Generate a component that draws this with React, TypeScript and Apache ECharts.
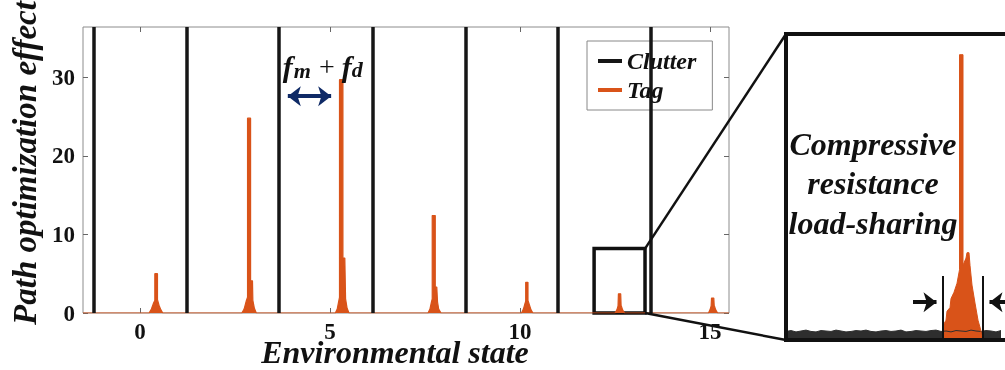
import React, { useEffect, useRef } from "react";
import * as echarts from "echarts";

// ---- main panel data ----
const xTicks = [0, 5, 10, 15];
const yTicks = [0, 10, 20, 30];
const clutterX = [-1.21, 1.24, 3.66, 6.12, 8.56, 11.0, 13.45];

const tagPeak1 = [[0.24, 0], [0.3, 0.5], [0.36, 1.3], [0.39, 1.6], [0.39, 5.0], [0.46, 5.0], [0.46, 1.7], [0.5, 1.0], [0.55, 0.4], [0.6, 0]];
const tagPeak2 = [[2.68, 0], [2.74, 0.5], [2.8, 1.6], [2.83, 2.0], [2.83, 24.8], [2.91, 24.8], [2.91, 4.1], [2.96, 4.1], [2.97, 1.6], [3.01, 0.6], [3.06, 0]];
const tagPeak3 = [[5.14, 0], [5.19, 0.5], [5.23, 1.5], [5.25, 2.0], [5.25, 29.7], [5.34, 29.7], [5.34, 7.0], [5.39, 7.0], [5.41, 1.8], [5.45, 0.6], [5.5, 0]];
const tagPeak4 = [[7.58, 0], [7.63, 0.5], [7.67, 1.4], [7.69, 1.8], [7.69, 12.4], [7.77, 12.4], [7.77, 3.3], [7.81, 3.3], [7.83, 1.4], [7.86, 0.5], [7.92, 0]];
const tagPeak5 = [[10.04, 0], [10.09, 0.5], [10.13, 1.2], [10.15, 1.5], [10.15, 3.9], [10.21, 3.9], [10.21, 1.6], [10.25, 1.0], [10.29, 0.4], [10.34, 0]];
const tagPeak6 = [[12.5, 0], [12.55, 0.4], [12.58, 0.9], [12.59, 2.45], [12.65, 2.45], [12.66, 1.0], [12.7, 0.4], [12.75, 0]];
const tagPeak7 = [[14.96, 0], [15.0, 0.4], [15.03, 0.9], [15.04, 1.9], [15.1, 1.9], [15.11, 1.0], [15.15, 0.4], [15.2, 0]];

// zoomed window on the main panel: [xMin, xMax, yTop]
const zoomWindow = [11.95, 13.29, 8.2];
// f_m + f_d span (clutter line to tag peak) at height
const spanArrow = [3.89, 5.03, 27.6];

// ---- inset data ----
const insetNoise = [0.95, 1.05, 0.9, 1.0, 1.1, 0.95, 0.9, 1.05, 1.0, 0.95, 1.1, 1.0, 0.9, 0.95, 1.05, 1.0, 1.1, 0.95, 0.9, 1.0,
  1.05, 0.95, 1.0, 1.1, 0.9, 0.95, 1.05, 1.0, 0.95, 1.05, 1.1, 0.95, 1.0, 0.9, 1.05, 1.0, 0.95, 1.1, 1.0, 0.95,
  1.05, 1.0, 0.9, 1.05];
const insetTag = [[15.7, 0], [15.75, 1.7], [16.0, 2.2], [16.1, 3.2], [16.4, 3.6], [16.5, 4.6], [16.8, 5.3], [17.1, 6.3], [17.35, 7.8], [17.35, 31.7],
  [17.7, 31.7], [17.7, 8.3], [18.0, 9.1], [18.1, 9.7], [18.3, 9.7], [18.4, 8.3], [18.6, 6.1], [18.9, 4.1], [19.2, 2.2],
  [19.5, 1.0], [19.6, 0]];
// band markers: x positions, marker top, arrow height
const bandEdges = [15.7, 19.7];
const bandMarkerTop = 7.1;
const bandArrowY = 4.2;
const insetXMax = 21.9;
const insetYMax = 34;
const insetNoteLines = ["Compressive", "resistance", "load-sharing"];

const SERIF = "Liberation Serif";
const ORANGE = "#d95319";
const INK = "#161616";

export default function App() {
  const ref = useRef<HTMLDivElement>(null);

  useEffect(() => {
    if (!ref.current) return;
    const chart = echarts.init(ref.current, null, { renderer: "svg" });

    const tagData = [[-1.5, 0], ...tagPeak1, ...tagPeak2, ...tagPeak3, ...tagPeak4, ...tagPeak5, ...tagPeak6, ...tagPeak7, [15.5, 0]];
    const noiseData = insetNoise.map((v, i) => [i * 0.5, v]);

    const tickStyle = { show: true, inside: true, length: 5, lineStyle: { color: "#666", width: 1 } };
    const noLine = { show: false, onZero: false };
    const tickFont = { fontFamily: SERIF, fontWeight: "bold", fontSize: 23, color: "#111" };

    const option: any = {
      animation: false,
      grid: [
        { left: 83, top: 27, width: 646, height: 286, show: true, borderColor: "#8c8c8c", borderWidth: 1, backgroundColor: "#fff" },
        { left: 786, top: 34, width: 219, height: 306, show: false },
      ],
      xAxis: [
        {
          gridIndex: 0, type: "value", min: -1.5, max: 15.5,
          axisLine: noLine, splitLine: { show: false },
          axisTick: { ...tickStyle, customValues: xTicks },
          axisLabel: { customValues: xTicks, margin: 7, ...tickFont },
        },
        {
          gridIndex: 0, type: "value", position: "top", min: -1.5, max: 15.5,
          axisLine: noLine, splitLine: { show: false },
          axisTick: { ...tickStyle, customValues: xTicks },
          axisLabel: { show: false },
        },
        { gridIndex: 1, type: "value", min: 0, max: insetXMax, show: false, axisLine: noLine },
      ],
      yAxis: [
        {
          gridIndex: 0, type: "value", min: 0, max: 36.4,
          axisLine: noLine, splitLine: { show: false },
          axisTick: { ...tickStyle, customValues: yTicks },
          axisLabel: { customValues: yTicks, margin: 8, ...tickFont },
        },
        {
          gridIndex: 0, type: "value", position: "right", min: 0, max: 36.4,
          axisLine: noLine, splitLine: { show: false },
          axisTick: { ...tickStyle, customValues: yTicks }, axisLabel: { show: false },
        },
        { gridIndex: 1, type: "value", min: 0, max: insetYMax, show: false, axisLine: noLine },
      ],
      legend: {
        data: ["Clutter", "Tag"], orient: "vertical", left: 587, top: 41,
        backgroundColor: "#fff", borderColor: "#888", borderWidth: 1,
        padding: [8, 16, 8, 11], itemGap: 5, itemWidth: 24, itemHeight: 4, icon: "rect",
        selectedMode: false,
        textStyle: { fontFamily: SERIF, fontStyle: "italic", fontWeight: "bold", fontSize: 24, color: "#111" },
      },
      series: [
        {
          name: "Clutter", type: "line", xAxisIndex: 0, yAxisIndex: 0, data: [], color: INK,
          lineStyle: { color: INK, width: 3.5 }, symbol: "none",
          markLine: {
            silent: true, symbol: "none", label: { show: false },
            lineStyle: { color: INK, width: 3.5, type: "solid" },
            data: clutterX.map((x) => ({ xAxis: x })),
          },
        },
        {
          name: "Tag", type: "line", xAxisIndex: 0, yAxisIndex: 0, data: tagData, color: ORANGE,
          symbol: "none", lineStyle: { color: ORANGE, width: 1.2 }, areaStyle: { color: ORANGE, opacity: 1 },
          markArea: {
            silent: true, label: { show: false },
            itemStyle: { color: "rgba(0,0,0,0)", borderColor: "#111", borderWidth: 3.5 },
            data: [[{ coord: [zoomWindow[0], 0] }, { coord: [zoomWindow[1], zoomWindow[2]] }]],
          },
        },
        {
          name: "span", type: "line", xAxisIndex: 0, yAxisIndex: 0, data: [],
          markLine: {
            silent: true, symbol: ["arrow", "arrow"], symbolSize: [15, 13], label: { show: false },
            lineStyle: { color: "#0f2a66", width: 4, type: "solid" },
            data: [[{ coord: [spanArrow[0], spanArrow[2]] }, { coord: [spanArrow[1], spanArrow[2]] }]],
          },
        },
        {
          name: "insetClutter", type: "line", xAxisIndex: 2, yAxisIndex: 2, data: noiseData,
          symbol: "none", lineStyle: { color: "#2e2e2e", width: 1 }, areaStyle: { color: "#2e2e2e", opacity: 1 },
        },
        {
          name: "insetTag", type: "line", xAxisIndex: 2, yAxisIndex: 2, data: insetTag,
          symbol: "none", lineStyle: { color: ORANGE, width: 1 }, areaStyle: { color: ORANGE, opacity: 1 },
          markLine: {
            silent: true, symbol: "none", label: { show: false },
            lineStyle: { color: "#111", width: 2, type: "solid" },
            data: bandEdges.map((x) => [{ coord: [x, 0] }, { coord: [x, bandMarkerTop] }]),
          },
        },
        {
          name: "insetArrows", type: "line", xAxisIndex: 2, yAxisIndex: 2, data: [],
          markLine: {
            silent: true, symbol: ["none", "arrow"], symbolSize: [15, 13], label: { show: false },
            lineStyle: { color: "#111", width: 4, type: "solid" },
            data: [
              [{ coord: [bandEdges[0] - 3.0, bandArrowY] }, { coord: [bandEdges[0] - 0.65, bandArrowY] }],
              [{ coord: [insetXMax, bandArrowY] }, { coord: [bandEdges[1] + 0.65, bandArrowY] }],
            ],
          },
        },
      ],
    };

    chart.setOption(option);

    const p0 = (v: number[]) => chart.convertToPixel({ gridIndex: 0 } as any, v) as number[];
    const p1 = (v: number[]) => chart.convertToPixel({ gridIndex: 1 } as any, v) as number[];
    const boxTop = p0([zoomWindow[1], zoomWindow[2]]);
    const boxBottom = p0([zoomWindow[1], 0]);
    const insetTop = p1([0, insetYMax]);
    const insetBottom = p1([0, 0]);
    const spanStart = p0([spanArrow[0], spanArrow[2]]);
    const noteAnchor = p1([8.7, 17.4]);

    const lineStyle = { stroke: "#111", lineWidth: 2.5 };
    const txt = (text: string, x: number, y: number, size: number, opts: any = {}) => ({
      type: "text", z: 100, x, y, rotation: opts.rotation || 0,
      style: {
        text, fontFamily: SERIF, fontSize: size, fontWeight: opts.weight || "bold",
        fontStyle: opts.style || "italic", fill: "#111",
        align: opts.align || "center", verticalAlign: "middle",
      },
    });

    chart.setOption({
      graphic: [
        // inset frame, open to the right where it leaves the page
        {
          type: "rect", z: 90,
          shape: { x: insetTop[0], y: insetTop[1], width: 300, height: insetBottom[1] - insetTop[1] },
          style: { fill: "none", stroke: "#111", lineWidth: 4 },
        },
        { type: "line", z: 100, shape: { x1: boxTop[0], y1: boxTop[1], x2: insetTop[0], y2: insetTop[1] }, style: lineStyle },
        { type: "line", z: 100, shape: { x1: boxBottom[0], y1: boxBottom[1], x2: insetBottom[0], y2: insetBottom[1] }, style: lineStyle },
        txt("Path optimization effect", 25, 163, 33, { rotation: Math.PI / 2 }),
        txt("Environmental state", 395, 352, 32),
        // f_m + f_d
        txt("f", spanStart[0] - 5, spanStart[1] - 30, 30, { align: "left" }),
        txt("m", spanStart[0] + 6, spanStart[1] - 26, 22, { align: "left" }),
        txt("+", spanStart[0] + 39, spanStart[1] - 30, 28, { weight: "normal", style: "normal" }),
        txt("f", spanStart[0] + 54, spanStart[1] - 30, 30, { align: "left" }),
        txt("d", spanStart[0] + 64, spanStart[1] - 27, 22, { align: "left" }),
        // inset note
        ...insetNoteLines.map((line, i) => txt(line, noteAnchor[0], noteAnchor[1] + (i - 1) * 39.5, 32)),
      ],
    });

    return () => chart.dispose();
  }, []);

  return (
    <div
      ref={ref}
      style={{ position: "fixed", left: 0, top: 0, width: 1005, height: 370 }}
    />
  );
}
